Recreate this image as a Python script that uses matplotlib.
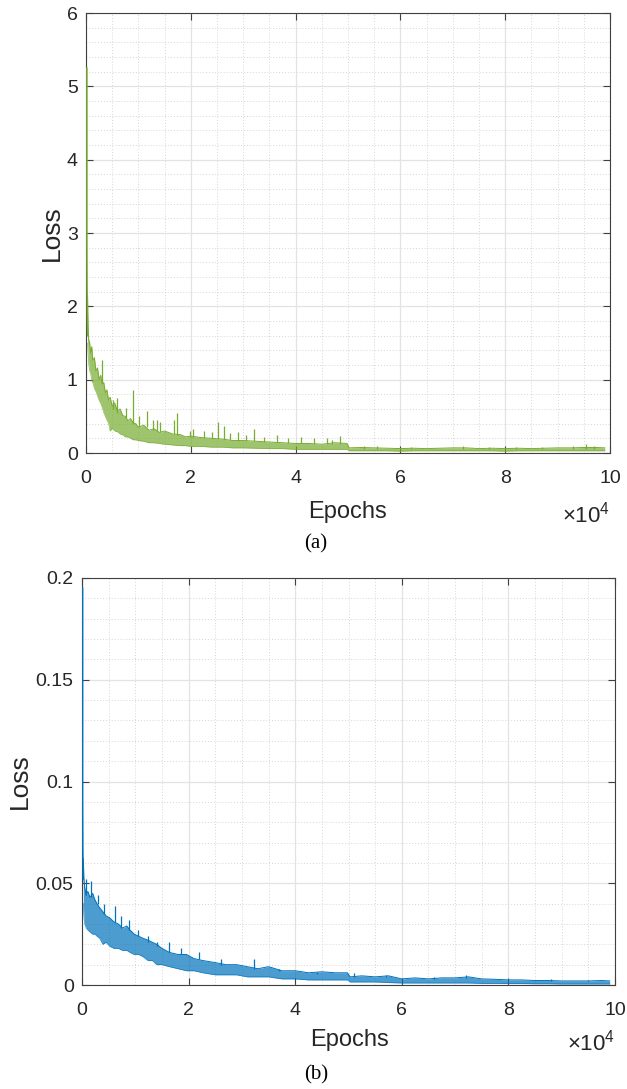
import numpy as np
import matplotlib
matplotlib.use("Agg")
import matplotlib.pyplot as plt
from matplotlib.ticker import MultipleLocator, FuncFormatter

plt.rcParams['font.family'] = ['Liberation Sans', 'DejaVu Sans']
plt.rcParams['mathtext.fontset'] = 'custom'
plt.rcParams['mathtext.rm'] = 'Liberation Sans'

# ---------- (a) green loss curve ----------
# steep start in the first few hundred epochs
a_start_x = [170, 170, 200, 240, 300]
a_start_y = [5.25, 2.9, 2.3, 1.9, 1.6]
a_x = [300, 400, 500, 700, 900, 1100, 1300, 1600, 1900, 2200,
       2500, 2800, 3100, 3400, 3700, 4000, 4300, 4600, 5000, 5500,
       6000, 6500, 7000, 7500, 8000, 8500, 9000, 9500, 10000, 11000,
       12000, 13000, 14000, 15000, 16500, 18000, 19000, 20000, 22000, 24000,
       26000, 28000, 30000, 32500, 35000, 37500, 40000, 42500, 45000, 47500,
       49800, 50200, 52500, 55000, 57500, 60000, 62500, 65000, 67500, 70000,
       72500, 75000, 77500, 80000, 82500, 85000, 87500, 90000, 92500, 95000,
       97500, 99000]
a_lo = [1.50, 1.35, 1.22, 1.12, 1.08, 0.98, 0.96, 0.88, 0.84, 0.78,
        0.72, 0.68, 0.62, 0.55, 0.50, 0.45, 0.41, 0.30, 0.34, 0.30,
        0.29, 0.26, 0.25, 0.22, 0.22, 0.20, 0.18, 0.18, 0.17, 0.16,
        0.14, 0.14, 0.13, 0.12, 0.11, 0.10, 0.10, 0.09, 0.09, 0.08,
        0.08, 0.07, 0.07, 0.065, 0.06, 0.06, 0.05, 0.05, 0.05, 0.05,
        0.05, 0.03, 0.03, 0.03, 0.03, 0.025, 0.03, 0.03, 0.03, 0.03,
        0.03, 0.03, 0.03, 0.025, 0.03, 0.03, 0.03, 0.03, 0.03, 0.03,
        0.03, 0.03]
a_hi = [2.15, 1.72, 1.55, 1.50, 1.36, 1.45, 1.26, 1.30, 1.12, 1.16,
        1.00, 1.06, 0.94, 0.96, 0.82, 0.86, 0.72, 0.76, 0.64, 0.68,
        0.57, 0.60, 0.51, 0.50, 0.44, 0.47, 0.41, 0.40, 0.35, 0.38,
        0.31, 0.33, 0.28, 0.30, 0.26, 0.25, 0.22, 0.23, 0.21, 0.20,
        0.19, 0.17, 0.17, 0.16, 0.15, 0.14, 0.13, 0.13, 0.12, 0.14,
        0.13, 0.07, 0.075, 0.07, 0.065, 0.06, 0.065, 0.06, 0.065, 0.07,
        0.07, 0.06, 0.065, 0.06, 0.065, 0.06, 0.065, 0.07, 0.07, 0.075,
        0.075, 0.07]
a_spk_x = [3100, 5200, 6000, 7600, 8900, 10200, 11600, 12800, 13500, 14100,
           16700, 17400, 19800, 20500, 22500, 24000, 25200, 26400, 27500, 29000,
           30500, 32000, 34000, 36500, 38500, 41000, 43500, 46000, 47000, 48500,
           53000, 55500, 62000, 72000, 77000, 82000, 87000, 93000, 95500, 97000]
a_spk_top = [1.27, 0.72, 0.75, 0.62, 0.86, 0.50, 0.57, 0.45, 0.45, 0.42,
             0.45, 0.54, 0.30, 0.33, 0.30, 0.28, 0.42, 0.37, 0.27, 0.28,
             0.25, 0.33, 0.22, 0.25, 0.20, 0.22, 0.20, 0.20, 0.18, 0.23,
             0.10, 0.09, 0.08, 0.10, 0.08, 0.08, 0.08, 0.09, 0.12, 0.10]
a_spk_base = [0.95, 0.60, 0.55, 0.48, 0.40, 0.36, 0.35, 0.32, 0.30, 0.29,
              0.26, 0.25, 0.22, 0.22, 0.21, 0.20, 0.19, 0.19, 0.18, 0.17,
              0.17, 0.16, 0.15, 0.15, 0.14, 0.13, 0.12, 0.12, 0.12, 0.12,
              0.06, 0.06, 0.06, 0.06, 0.06, 0.06, 0.06, 0.06, 0.06, 0.06]

# ---------- (b) blue loss curve ----------
b_start_x = [120, 120, 150, 200, 250]
b_start_y = [0.195, 0.09, 0.068, 0.055, 0.052]
b_x = [250, 350, 500, 800, 1100, 1500, 2000, 2400, 2800, 3300,
       3900, 4500, 5200, 6000, 6800, 7600, 8400, 9000, 9800, 10600,
       11400, 12400, 13200, 14000, 15000, 16400, 18000, 19600, 21000, 22700,
       25000, 27000, 29000, 31000, 33000, 35000, 37500, 40000, 42500, 45000,
       47500, 49800, 50300, 52500, 55000, 57500, 60000, 62500, 65000, 67500,
       70000, 72500, 75000, 77500, 80000, 82500, 85000, 87500, 90000, 92500,
       95000, 97500, 99000]
b_lo = [0.040, 0.034, 0.030, 0.028, 0.027, 0.026, 0.025, 0.025, 0.024, 0.023,
        0.020, 0.021, 0.019, 0.018, 0.018, 0.017, 0.017, 0.016, 0.015, 0.015,
        0.014, 0.012, 0.012, 0.010, 0.010, 0.009, 0.008, 0.007, 0.007, 0.006,
        0.005, 0.005, 0.005, 0.004, 0.004, 0.004, 0.003, 0.003, 0.0025, 0.0025,
        0.0025, 0.0025, 0.0015, 0.0015, 0.0015, 0.0012, 0.001, 0.001, 0.001, 0.001,
        0.001, 0.001, 0.0008, 0.0008, 0.0007, 0.0007, 0.0006, 0.0006, 0.0005, 0.0005,
        0.0005, 0.0005, 0.0005]
b_hi = [0.062, 0.052, 0.048, 0.044, 0.046, 0.043, 0.045, 0.042, 0.040, 0.038,
        0.036, 0.034, 0.033, 0.031, 0.030, 0.028, 0.029, 0.027, 0.025, 0.024,
        0.023, 0.022, 0.021, 0.020, 0.018, 0.016, 0.015, 0.015, 0.013, 0.012,
        0.011, 0.010, 0.010, 0.009, 0.008, 0.009, 0.007, 0.007, 0.006, 0.0065,
        0.006, 0.006, 0.004, 0.0045, 0.004, 0.0045, 0.003, 0.0035, 0.003, 0.0035,
        0.0035, 0.004, 0.003, 0.0028, 0.0025, 0.0025, 0.0022, 0.0022, 0.002, 0.002,
        0.002, 0.0022, 0.002]
b_spk_x = [700, 1600, 3000, 4200, 6100, 7300, 8800, 10500, 12400, 14000,
           16400, 18500, 22000, 26000, 32200, 37000, 44000, 51000, 57000, 66000,
           72000, 80000, 88000, 95000]
b_spk_top = [0.052, 0.051, 0.044, 0.040, 0.039, 0.034, 0.032, 0.027, 0.024, 0.021,
             0.021, 0.018, 0.016, 0.013, 0.013, 0.008, 0.0065, 0.0057, 0.005, 0.004,
             0.005, 0.003, 0.0028, 0.0025]
b_spk_base = [0.044, 0.043, 0.040, 0.035, 0.031, 0.028, 0.027, 0.024, 0.021, 0.019,
              0.016, 0.015, 0.013, 0.010, 0.008, 0.007, 0.0055, 0.004, 0.004, 0.003,
              0.0035, 0.0025, 0.0022, 0.002]

W, H = 627, 1089
fig = plt.figure(figsize=(W / 100, H / 100), dpi=100)

def px_rect(x0, y0, x1, y1):
    return [x0 / W, 1 - y1 / H, (x1 - x0) / W, (y1 - y0) / H]

def style_axes(ax, ymax, ymajor, yminor):
    ax.set_xlim(0, 100000)
    ax.set_ylim(0, ymax)
    ax.xaxis.set_major_locator(MultipleLocator(20000))
    ax.xaxis.set_minor_locator(MultipleLocator(5000))
    ax.yaxis.set_major_locator(MultipleLocator(ymajor))
    ax.yaxis.set_minor_locator(MultipleLocator(yminor))
    ax.xaxis.set_major_formatter(FuncFormatter(lambda v, p: f"{v / 1e4:g}"))
    ax.yaxis.set_major_formatter(FuncFormatter(lambda v, p: f"{v:g}"))
    ax.grid(True, which='major', color='#e3e3e3', lw=0.9)
    ax.grid(True, which='minor', color='#d6d6d6', lw=0.7, ls=(0, (1, 2)))
    ax.set_axisbelow(True)
    ax.tick_params(which='major', direction='in', length=5, width=0.8, color='#404040',
                   top=True, right=True, labelsize=14, labelcolor='#262626')
    ax.tick_params(axis='x', pad=12)
    ax.tick_params(axis='y', pad=6)
    ax.tick_params(which='minor', length=0)
    for s in ax.spines.values():
        s.set_color('#404040')
        s.set_linewidth(0.8)

def draw_curve(ax, color, sx, sy, x, lo, hi, kx, kb, kt):
    ax.plot(sx, sy, color=color, lw=1.1, zorder=3)
    ax.fill_between(x, lo, hi, color=color, alpha=0.7, lw=0)
    ax.plot(x, hi, color=color, lw=0.7)
    ax.plot(x, lo, color=color, lw=0.5, alpha=0.8)
    ax.vlines(kx, kb, kt, color=color, lw=0.9)

# (a)
ax1 = fig.add_axes(px_rect(86, 13, 610, 453))
draw_curve(ax1, '#77AC30', a_start_x, a_start_y, a_x, a_lo, a_hi,
           a_spk_x, a_spk_base, a_spk_top)
style_axes(ax1, 6, 1, 0.2)
ax1.set_ylabel('Loss', fontsize=19, color='#262626', labelpad=2)

# (b)
ax2 = fig.add_axes(px_rect(82, 578, 615, 985))
draw_curve(ax2, '#0072BD', b_start_x, b_start_y, b_x, b_lo, b_hi,
           b_spk_x, b_spk_base, b_spk_top)
style_axes(ax2, 0.2, 0.05, 0.01)
ax2.set_ylabel('Loss', fontsize=19, color='#262626', labelpad=3)

# x labels, exponent and captions
for (xc, y_ep, x_exp, y_exp, y_cap, cap) in [(348, 512, 610, 515, 544, '(a)'),
                                            (350, 1040, 615, 1043, 1075, '(b)')]:
    fig.text(xc / W, 1 - y_ep / H, 'Epochs', fontsize=17, color='#262626',
             ha='center', va='center')
    fig.text(x_exp / W, 1 - y_exp / H, r'$\mathregular{\times10^{4}}$', fontsize=16,
             color='#262626', ha='right', va='center')
    fig.text(316 / W, 1 - y_cap / H, cap, fontsize=15, family='Liberation Serif',
             color='black', ha='center', va='center')

fig.savefig('out.png', dpi=100)
